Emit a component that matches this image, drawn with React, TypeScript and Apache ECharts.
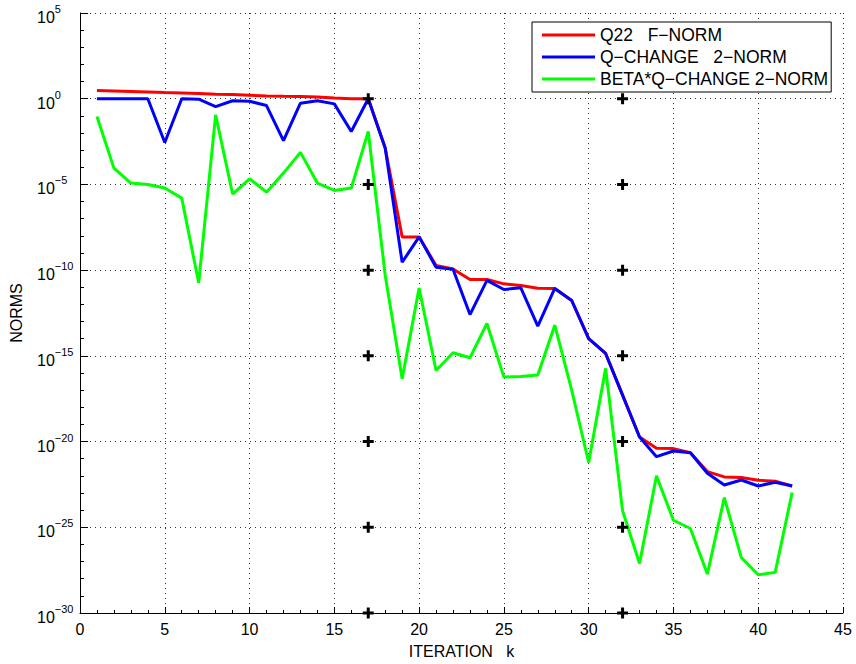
import React, { useEffect, useRef } from "react";
import * as echarts from "echarts";

// iteration numbers
const iterations = [
  1, 2, 3, 4, 5, 6, 7, 8, 9, 10, 11, 12, 13, 14, 15, 16, 17, 18, 19, 20, 21,
  22, 23, 24, 25, 26, 27, 28, 29, 30, 31, 32, 33, 34, 35, 36, 37, 38, 39, 40,
  41, 42,
];

// log10 of each norm
const q22FNormLog10 = [
  0.48, 0.45, 0.42, 0.39, 0.36, 0.34, 0.3, 0.26, 0.24, 0.2, 0.16, 0.14, 0.13,
  0.1, 0.04, 0.0, 0.0, -2.88, -8.06, -8.06, -9.73, -9.93, -10.55, -10.55,
  -10.8, -10.9, -11.05, -11.07, -11.77, -13.99, -14.86, -17.29, -19.73,
  -20.39, -20.41, -20.65, -21.75, -22.06, -22.1, -22.26, -22.31, -22.59,
];

const qChange2NormLog10 = [
  0, 0, 0, 0, -2.55, 0, -0.03, -0.46, -0.12, -0.15, -0.4, -2.44, -0.26, -0.12,
  -0.3, -1.91, 0.0, -2.88, -9.54, -8.06, -9.83, -9.95, -12.59, -10.6, -11.13,
  -11.03, -13.27, -11.07, -11.77, -13.99, -14.86, -17.29, -19.73, -20.88,
  -20.55, -20.65, -21.85, -22.53, -22.24, -22.59, -22.37, -22.59,
];

const betaQChange2NormLog10 = [
  -1.04, -4.05, -4.92, -5.0, -5.21, -5.8, -10.74, -0.94, -5.56, -4.67, -5.45,
  -4.34, -3.13, -4.92, -5.35, -5.21, -1.91, -10.3, -16.33, -11.04, -15.85,
  -14.82, -15.11, -13.11, -16.24, -16.2, -16.12, -13.21, -17.0, -21.22,
  -15.73, -24.04, -27.11, -22.0, -24.59, -25.07, -27.73, -23.27, -26.76,
  -27.77, -27.63, -22.97,
];

// "+" markers
const markerIterations = [17, 32];
const markerLog10 = [0, -5, -10, -15, -20, -25, -30];

const seriesNames = [
  "Q22   F\u2212NORM",
  "Q\u2212CHANGE   2\u2212NORM",
  "BETA*Q\u2212CHANGE 2\u2212NORM",
];

const FONT = "'Liberation Sans', Arial, Helvetica, sans-serif";

export default function App() {
  const ref = useRef<HTMLDivElement>(null);

  useEffect(() => {
    if (!ref.current) return;
    const chart = echarts.init(ref.current, null, { renderer: "svg" });

    const pair = (ys: number[]) => iterations.map((x, i) => [x, ys[i]]);
    const markers: number[][] = [];
    markerIterations.forEach((x) =>
      markerLog10.forEach((y) => markers.push([x, y]))
    );

    const dotted = { color: "#333", width: 1, type: [1, 4] as number[] };

    chart.setOption({
      animation: false,
      backgroundColor: "#fff",
      textStyle: { fontFamily: FONT },
      grid: { left: 80, right: 13, top: 13, bottom: 50, containLabel: false },
      legend: {
        left: 532,
        top: 22,
        orient: "vertical",
        data: seriesNames,
        icon: "rect",
        itemWidth: 53,
        itemHeight: 3,
        itemGap: 4,
        padding: [4, 3, 4, 10],
        backgroundColor: "#fff",
        borderColor: "#000",
        borderWidth: 1,
        borderRadius: 0,
        textStyle: {
          fontSize: 17.5,
          lineHeight: 18,
          color: "#000",
          fontFamily: FONT,
          padding: [0, 0, 0, 0],
        },
      },
      xAxis: {
        type: "value",
        min: 0,
        max: 45,
        interval: 5,
        name: "ITERATION   k",
        nameLocation: "middle",
        nameGap: 30,
        nameTextStyle: { fontSize: 16, color: "#000", fontFamily: FONT },
        axisLine: { show: true, onZero: false, lineStyle: { color: "#000", width: 1 } },
        axisTick: { show: true, inside: true, length: 6, lineStyle: { color: "#000" } },
        minorTick: { show: true, splitNumber: 5, length: 3, lineStyle: { color: "#000" } },
        axisLabel: { fontSize: 16, color: "#000", margin: 8, fontFamily: FONT },
        splitLine: { show: true, lineStyle: dotted },
      },
      yAxis: {
        type: "value",
        min: -30,
        max: 5,
        interval: 5,
        name: "NORMS",
        nameLocation: "middle",
        nameRotate: 90,
        nameGap: 56,
        nameTextStyle: { fontSize: 16, color: "#000", fontFamily: FONT },
        axisLine: { show: true, onZero: false, lineStyle: { color: "#000", width: 1 } },
        axisTick: { show: true, inside: true, length: 8, lineStyle: { color: "#000" } },
        minorTick: { show: true, splitNumber: 5, length: 4, lineStyle: { color: "#000" } },
        axisLabel: {
          margin: 43,
          align: "left",
          color: "#000",
          formatter: (v: number) =>
            `{b|10}{s|${v < 0 ? "\u2212" + Math.abs(v) : v}}`,
          rich: {
            b: { fontSize: 16, color: "#000", fontFamily: FONT, padding: [9, 0, 0, 0] },
            s: { fontSize: 11, color: "#000", fontFamily: FONT, padding: [0, 0, 8, 0] },
          },
        },
        splitLine: { show: true, lineStyle: dotted },
      },
      series: [
        {
          name: seriesNames[0],
          type: "line",
          data: pair(q22FNormLog10),
          symbol: "none",
          color: "#ff0000",
          lineStyle: { color: "#ff0000", width: 3 },
          z: 2,
        },
        {
          name: seriesNames[1],
          type: "line",
          data: pair(qChange2NormLog10),
          symbol: "none",
          color: "#0000ff",
          lineStyle: { color: "#0000ff", width: 3 },
          z: 3,
        },
        {
          name: seriesNames[2],
          type: "line",
          data: pair(betaQChange2NormLog10),
          symbol: "none",
          color: "#00ff00",
          lineStyle: { color: "#00ff00", width: 3 },
          z: 4,
        },
        {
          name: "markers",
          type: "scatter",
          data: markers,
          symbol: "path://M4,0H7V4H11V7H7V11H4V7H0V4H4Z",
          symbolSize: 11,
          itemStyle: { color: "#000", opacity: 1 },
          clip: false,
          z: 5,
        },
      ],
    });

    return () => chart.dispose();
  }, []);

  return (
    <div
      ref={ref}
      style={{ position: "absolute", left: 0, top: 0, width: 856, height: 664 }}
    />
  );
}
